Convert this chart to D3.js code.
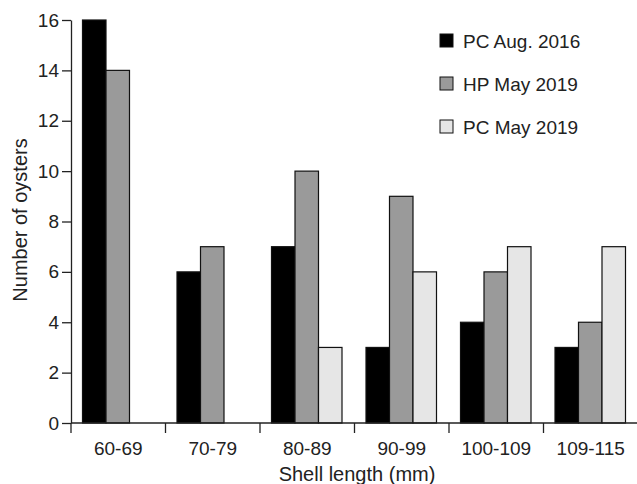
<!DOCTYPE html>
<html>
<head>
<meta charset="utf-8">
<script src="https://cdn.jsdelivr.net/npm/d3@7"></script>
<style>
  body { margin: 0; background: #fff; }
  svg { font-family: "Liberation Sans", Arial, sans-serif; }
  .axis path, .axis line { stroke: #222; stroke-width: 1.3; }
  .axis text { font-size: 19px; fill: #222; }
</style>
</head>
<body>
<div id="chart"></div>
<script>
// Données
const categories = ["60-69", "70-79", "80-89", "90-99", "100-109", "109-115"];
const seriesNames = ["PC Aug. 2016", "HP May 2019", "PC May 2019"];
const pcAug2016 = [16, 6, 7, 3, 4, 3];
const hpMay2019 = [14, 7, 10, 9, 6, 4];
const pcMay2019 = [0, 0, 3, 6, 7, 7];
const yTicks = [0, 2, 4, 6, 8, 10, 12, 14, 16];

const seriesValues = [pcAug2016, hpMay2019, pcMay2019];
const seriesColors = ["#000000", "#9a9a9a", "#e6e6e6"];

const width = 637;
const height = 484;
const margin = { top: 20, right: -1, bottom: 61, left: 71 };
const chartWidth = width - margin.left - margin.right;
const chartHeight = height - margin.top - margin.bottom;

const svg = d3.select("#chart")
  .append("svg")
  .attr("width", width)
  .attr("height", height);

const g = svg.append("g")
  .attr("transform", `translate(${margin.left},${margin.top})`);

// Échelles
const x0 = d3.scaleBand().domain(categories).range([0, chartWidth]).padding(0);
const x1 = d3.scaleBand()
  .domain(d3.range(seriesNames.length))
  .range([11.5, x0.bandwidth() - 12.5])
  .padding(0);
const y = d3.scaleLinear().domain([0, 16]).range([chartHeight, 0]);

// Barres
const rows = categories.map((c, i) => ({
  cat: c,
  vals: seriesValues.map((s, k) => ({ k: k, v: s[i] }))
}));

const groups = g.selectAll(".grp")
  .data(rows)
  .enter()
  .append("g")
  .attr("transform", (d) => `translate(${x0(d.cat)},0)`);

groups.selectAll("rect")
  .data((d) => d.vals.filter((e) => e.v > 0))
  .enter()
  .append("rect")
  .attr("x", (d) => x1(d.k))
  .attr("width", x1.bandwidth())
  .attr("y", (d) => y(d.v))
  .attr("height", (d) => chartHeight - y(d.v))
  .attr("fill", (d) => seriesColors[d.k])
  .attr("stroke", "#111")
  .attr("stroke-width", 1.2);

// Axe Y
g.append("g")
  .attr("class", "axis")
  .call(d3.axisLeft(y).tickValues(yTicks).tickSize(9).tickSizeOuter(0).tickPadding(3));

// Axe X : traits aux limites des classes
const xAxis = g.append("g")
  .attr("class", "axis")
  .attr("transform", `translate(0,${chartHeight})`);

xAxis.append("line")
  .attr("x1", 0)
  .attr("x2", chartWidth)
  .attr("y1", 0)
  .attr("y2", 0);

xAxis.selectAll(".tk")
  .data(categories)
  .enter()
  .append("line")
  .attr("x1", (d) => x0(d))
  .attr("x2", (d) => x0(d))
  .attr("y1", 0)
  .attr("y2", 10);

xAxis.selectAll(".lbl")
  .data(categories)
  .enter()
  .append("text")
  .attr("x", (d) => x0(d) + x0.bandwidth() / 2)
  .attr("y", 32)
  .attr("text-anchor", "middle")
  .text((d) => d);

// Titres des axes
svg.append("text")
  .attr("x", 357)
  .attr("y", 481)
  .attr("text-anchor", "middle")
  .style("font-size", "20px")
  .attr("fill", "#222")
  .text("Shell length (mm)");

svg.append("text")
  .attr("transform", `translate(27,220) rotate(-90)`)
  .attr("text-anchor", "middle")
  .style("font-size", "20px")
  .attr("fill", "#222")
  .text("Number of oysters");

// Légende
const legend = svg.append("g").attr("transform", "translate(440,34)");
seriesNames.forEach((name, k) => {
  const row = legend.append("g").attr("transform", `translate(0,${k * 43})`);
  row.append("rect")
    .attr("width", 13)
    .attr("height", 13)
    .attr("fill", seriesColors[k])
    .attr("stroke", "#111")
    .attr("stroke-width", 1);
  row.append("text")
    .attr("x", 23)
    .attr("y", 13.5)
    .style("font-size", "19px")
    .attr("fill", "#222")
    .text(name);
});
</script>
</body>
</html>
